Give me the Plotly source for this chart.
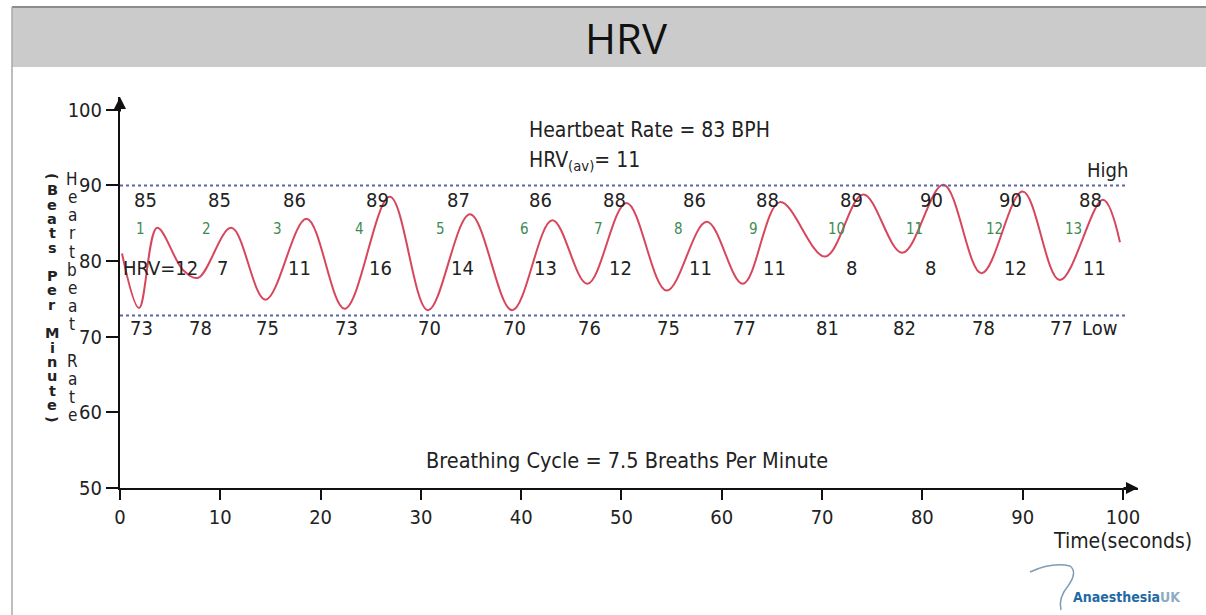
import plotly.graph_objects as go

# Heart rate trace (time in s, rate in bpm)
times = [0.2, 1.9, 3.7, 6.3, 7.8, 11.1, 14.5, 18.6, 22.4, 26.9, 30.7, 34.9, 39.1, 43.1,
         46.6, 50.5, 54.5, 58.5, 62.1, 65.8, 70.3, 74.1, 78.0, 82.1, 85.9, 90.0, 93.7,
         98.0, 99.7]
rate = [81.0, 73.8, 84.4, 78.8, 77.8, 84.4, 74.9, 85.6, 73.7, 88.5, 73.5, 86.2, 73.5, 85.4,
        77.0, 87.7, 76.1, 85.2, 77.0, 87.8, 80.6, 88.8, 81.1, 90.1, 78.4, 89.2, 77.5,
        88.1, 82.5]

# per breathing cycle labels
cycles = list(range(1, 14))
peak_labels = [85, 85, 86, 89, 87, 86, 88, 86, 88, 89, 90, 90, 88]
trough_labels = [73, 78, 75, 73, 70, 70, 76, 75, 77, 81, 82, 78, 77]
hrv_labels = [12, 7, 11, 16, 14, 13, 12, 11, 11, 8, 8, 12, 11]

high_level = 90
low_level = 72.8
x_ticks = list(range(0, 101, 10))
y_ticks = list(range(50, 101, 10))

FONT = "DejaVu Sans Condensed, DejaVu Sans, sans-serif"
TXT = "#222222"

# plot area in pixels
L, R, T, B = 120, 1138, 97, 488
W, H = 1206, 615


def px(x):
    return (x - L) / (R - L)


def py(y):
    return (B - y) / (B - T)


# find peaks / troughs of the trace
peak_t, trough_t = [], []
for i in range(1, len(rate) - 1):
    if rate[i] > rate[i - 1] and rate[i] > rate[i + 1]:
        peak_t.append(times[i])
    if rate[i] < rate[i - 1] and rate[i] < rate[i + 1]:
        trough_t.append(times[i])

fig = go.Figure()

fig.add_trace(go.Scatter(
    x=times, y=rate, mode="lines",
    line=dict(color="#d8465c", width=2, shape="spline", smoothing=1.0),
    showlegend=False, hoverinfo="x+y"
))

# High / Low dotted lines
for lvl in [high_level, low_level]:
    fig.add_shape(type="line", xref="x", yref="y", x0=0, x1=100.5, y0=lvl, y1=lvl,
                  line=dict(color="#5c64a8", width=2, dash="dot"))

ann = []


def txt(x, y, s, size=20, color=TXT, xanchor="center", xshift=0, xref="x", yref="y", **kw):
    ann.append(dict(x=x, y=y, xref=xref, yref=yref, text=s, showarrow=False,
                    xanchor=xanchor, yanchor="middle", xshift=xshift,
                    font=dict(family=kw.pop("family", FONT), size=size, color=color), **kw))


for k in range(len(cycles)):
    mid = (trough_t[k] + peak_t[k]) / 2
    txt(peak_t[k], 88.1, str(peak_labels[k]), xshift=-12)
    txt(mid, 84.3, str(cycles[k]), size=15, color="#3d8a52", xshift=-8)
    txt(trough_t[k], 71.2, str(trough_labels[k]), xshift=2)
    if k == 0:
        txt(0, 79.1, "HRV=" + str(hrv_labels[k]), xanchor="left", xshift=1)
    else:
        txt(mid, 79.1, str(hrv_labels[k]), xanchor="left")

txt(98.5, 92.1, "High")
txt(97.7, 71.2, "Low")
txt(40.6, 97.35, "Heartbeat Rate = 83 BPH", size=21, xanchor="left")
txt(40.6, 93.2, "HRV<sub>(av)</sub>= 11", size=21, xanchor="left")
txt(50.55, 53.7, "Breathing Cycle = 7.5 Breaths Per Minute", size=21.5)
txt(px(1194), py(541), "Time(seconds)", size=21, xanchor="right", xref="paper", yref="paper")

# stacked vertical axis titles, one letter per line
for i, c in enumerate("Heartbeat Rate"):
    if c != " ":
        txt(px(72), py(179 + i * 18.15), c, size=17, xref="paper", yref="paper")

col2 = "(Beats Per Minute)"
for i, c in enumerate(col2):
    if c == " ":
        continue
    ang = 90 if c in "()" else 0
    txt(px(52), py(176 + i * 14.3), "<b>" + c + "</b>", size=14.5, xref="paper", yref="paper",
        family="DejaVu Sans, sans-serif", textangle=ang)

# title
txt(px(626), py(37), "HRV", size=42, color="#111111", xref="paper", yref="paper",
    family="Liberation Sans Narrow, Open Sans, sans-serif")

# logo text
txt(px(1071), py(597), "<b>Anaesthesia</b><span style='color:#8eaac4'><b>UK</b></span>",
    size=14, color="#1f6aa5", xanchor="left", xref="paper", yref="paper")

# axis arrows
ann.append(dict(x=101.5, y=50, xref="x", yref="y", ax=-16, ay=0, text="", showarrow=True,
                arrowhead=2, arrowsize=1.2, arrowwidth=2, arrowcolor="#111111", standoff=0))
ann.append(dict(x=0, y=101.7, xref="x", yref="y", ax=0, ay=16, text="", showarrow=True,
                arrowhead=2, arrowsize=1.2, arrowwidth=2, arrowcolor="#111111", standoff=0))

shapes = list(fig.layout.shapes)
# title band and frame
shapes.append(dict(type="rect", xref="paper", yref="paper", x0=px(12), x1=px(W), y0=py(67), y1=py(7),
                   fillcolor="#cbcbcb", line=dict(width=0), layer="below"))
shapes.append(dict(type="line", xref="paper", yref="paper", x0=px(12), x1=px(W), y0=py(7), y1=py(7),
                   line=dict(color="#8c8c8c", width=2)))
shapes.append(dict(type="line", xref="paper", yref="paper", x0=px(12), x1=px(12), y0=py(7), y1=py(H),
                   line=dict(color="#a8a8a8", width=1.5)))

# logo swoosh
pts = [(1030, 572), (1052, 562), (1070, 566), (1078, 572), (1068, 586), (1058, 598), (1061, 610)]
pp = [(px(a), py(b)) for a, b in pts]
path = "M {} {} Q {} {} {} {} Q {} {} {} {} Q {} {} {} {}".format(
    pp[0][0], pp[0][1], pp[1][0], pp[1][1], pp[2][0], pp[2][1],
    pp[3][0], pp[3][1], pp[4][0], pp[4][1], pp[5][0], pp[5][1], pp[6][0], pp[6][1])
shapes.append(dict(type="path", xref="paper", yref="paper", path=path,
                   line=dict(color="#7f9bb5", width=1.5)))

axis_common = dict(showline=True, linecolor="#111111", linewidth=2, showgrid=False, zeroline=False,
                   ticks="outside", tickcolor="#111111", tickwidth=1.5,
                   tickfont=dict(family=FONT, size=20, color=TXT), fixedrange=True)

fig.update_layout(
    width=W, height=H, autosize=False,
    margin=dict(l=L, r=W - R, t=T, b=H - B, pad=0),
    paper_bgcolor="white", plot_bgcolor="white",
    xaxis=dict(range=[0, 101.5], tickvals=x_ticks, ticklen=10, **axis_common),
    yaxis=dict(range=[50, 101.7], tickvals=y_ticks, ticklen=12, **axis_common),
    annotations=ann, shapes=shapes, showlegend=False
)

fig.write_html("out.html", config={"displayModeBar": False},
               post_script="document.body.style.margin='0';")
